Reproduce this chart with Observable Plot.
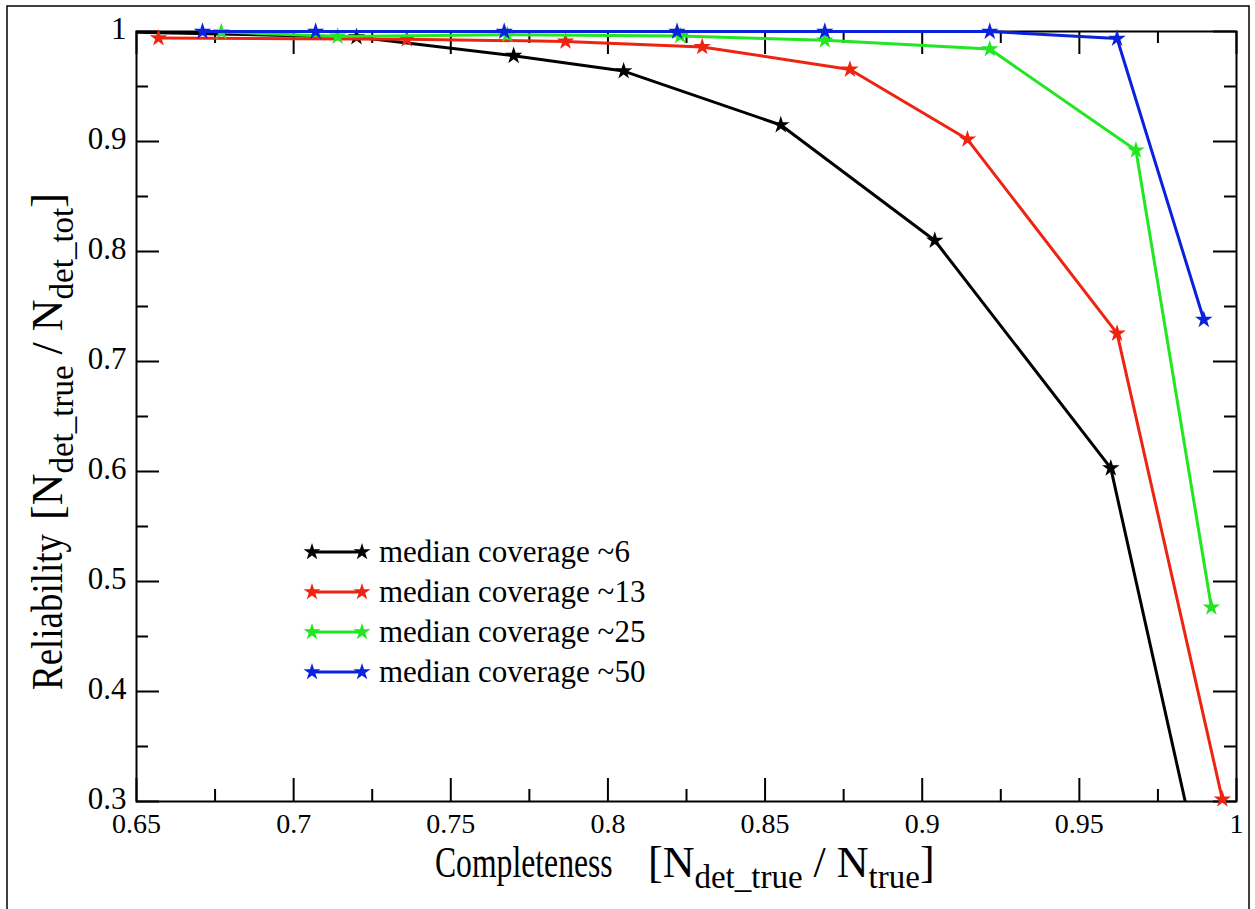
<!DOCTYPE html>
<html>
<head>
<meta charset="utf-8">
<script src="https://cdn.jsdelivr.net/npm/d3@7"></script>
<script src="https://cdn.jsdelivr.net/npm/@observablehq/plot@0.6"></script>
<style>
  body { margin: 0; background: #ffffff; }
  #chart { position: relative; width: 1255px; height: 909px; }
</style>
</head>
<body>
<div id="chart"></div>
<script>
// ---------------- data ----------------
const seriesLabels = ["median coverage ~6", "median coverage ~13", "median coverage ~25", "median coverage ~50"];
const seriesColors = ["#000000", "#ee2412", "#22e622", "#0a22dc"];

const cov6Completeness  = [0.640, 0.720, 0.770, 0.805, 0.855, 0.904, 0.960, 0.9915];
const cov6Reliability   = [1.000, 0.995, 0.978, 0.964, 0.915, 0.810, 0.603, 0.200];

const cov13Completeness = [0.657, 0.736, 0.7865, 0.830, 0.877, 0.9144, 0.962, 0.9955];
const cov13Reliability  = [0.994, 0.993, 0.991, 0.986, 0.9655, 0.902, 0.7255, 0.302];

const cov25Completeness = [0.677, 0.714, 0.768, 0.823, 0.869, 0.9215, 0.968, 0.992];
const cov25Reliability  = [0.9995, 0.9955, 0.997, 0.996, 0.992, 0.984, 0.892, 0.4765];

const cov50Completeness = [0.671, 0.707, 0.767, 0.822, 0.869, 0.9215, 0.962, 0.9896];
const cov50Reliability  = [1.000, 1.000, 1.000, 1.000, 1.000, 1.000, 0.9936, 0.738];

const xMajorTicks = [0.65, 0.7, 0.75, 0.8, 0.85, 0.9, 0.95, 1];
const xMinorTicks = [0.675, 0.725, 0.775, 0.825, 0.875, 0.925, 0.975];
const yMajorTicks = [0.3, 0.4, 0.5, 0.6, 0.7, 0.8, 0.9, 1];
const yMinorTicks = [0.35, 0.45, 0.55, 0.65, 0.75, 0.85, 0.95];

// ---------------- table ----------------
const seriesX = [cov6Completeness, cov13Completeness, cov25Completeness, cov50Completeness];
const seriesY = [cov6Reliability, cov13Reliability, cov25Reliability, cov50Reliability];
const rows = [];
seriesLabels.forEach((s, i) => {
  seriesX[i].forEach((c, j) => rows.push({series: s, c, r: seriesY[i][j]}));
});

// ---------------- layout ----------------
const W = 1255, H = 909;
const mL = 136, mR = 19, mT = 31, mB = 108;
const innerW = W - mL - mR, innerH = H - mT - mB;
const font = "'Liberation Serif', 'Times New Roman', serif";
const majorLen = 23, minorLen = 12;
const inDomain = d => d.c >= 0.65 && d.c <= 1 && d.r >= 0.3 && d.r <= 1;

const seriesMarks = seriesLabels.flatMap((s, i) => {
  const data = rows.filter(d => d.series === s);
  return [
    Plot.line(data, {x: "c", y: "r", stroke: seriesColors[i], strokeWidth: 3, clip: i === 0}),
    Plot.dot(data.filter(inDomain), {x: "c", y: "r", fill: seriesColors[i], symbol: "star", r: 5.5})
  ];
});

const plot = Plot.plot({
  width: W, height: H,
  marginLeft: mL, marginRight: mR, marginTop: mT, marginBottom: mB,
  style: {background: "white", color: "black"},
  x: {domain: [0.65, 1]},
  y: {domain: [0.3, 1]},
  marks: [
    Plot.tickX(xMajorTicks, {x: d => d, insetTop: innerH - majorLen, strokeWidth: 2}),
    Plot.tickX(xMajorTicks, {x: d => d, insetBottom: innerH - majorLen, strokeWidth: 2}),
    Plot.tickX(xMinorTicks, {x: d => d, insetTop: innerH - minorLen, strokeWidth: 2}),
    Plot.tickX(xMinorTicks, {x: d => d, insetBottom: innerH - minorLen, strokeWidth: 2}),
    Plot.tickY(yMajorTicks, {y: d => d, insetRight: innerW - majorLen, strokeWidth: 2}),
    Plot.tickY(yMajorTicks, {y: d => d, insetLeft: innerW - majorLen, strokeWidth: 2}),
    Plot.tickY(yMinorTicks, {y: d => d, insetRight: innerW - minorLen, strokeWidth: 2}),
    Plot.tickY(yMinorTicks, {y: d => d, insetLeft: innerW - minorLen, strokeWidth: 2}),
    Plot.frame({stroke: "black", strokeWidth: 2}),
    Plot.axisX(xMajorTicks, {tickSize: 0, tickPadding: 12, fontSize: 28, tickFormat: d => String(d), label: null}),
    Plot.axisY(yMajorTicks, {tickSize: 0, tickPadding: 10, fontSize: 31, dy: -2, tickFormat: d => String(d), label: null}),
    ...seriesMarks
  ]
});

document.getElementById("chart").appendChild(plot);

// ---------------- titles, legend, border ----------------
const svg = d3.select(plot);

svg.append("rect")
  .attr("x", 7).attr("y", 6).attr("width", W - 13).attr("height", H + 10)
  .attr("fill", "none").attr("stroke", "black").attr("stroke-width", 1.5);

const mainSize = 44, subSize = 33, subShift = 11;
function bracketText(g, parts) {
  parts.forEach(([t, sub]) => {
    const ts = g.append("tspan").text(t);
    if (sub === 1) ts.attr("dy", subShift).style("font-size", subSize + "px");
    if (sub === -1) ts.attr("dy", -subShift);
  });
}
const cx = mL + innerW / 2;

// x axis title
svg.append("text")
  .attr("transform", `translate(${cx - 251},877) scale(0.72,1)`)
  .attr("text-anchor", "start")
  .style("font-size", mainSize + "px")
  .text("Completeness");
const xb = svg.append("text")
  .attr("transform", `translate(${cx - 38},877)`)
  .attr("text-anchor", "start")
  .style("font-size", mainSize + "px");
bracketText(xb, [["[N", 0], ["det_true", 1], [" / N", -1], ["true", 1], ["]", -1]]);

// y axis title
const cy = mT + innerH / 2;
svg.append("text")
  .attr("transform", `translate(62,${cy + 274}) rotate(-90) scale(0.84,1)`)
  .attr("text-anchor", "start")
  .style("font-size", mainSize + "px")
  .text("Reliability");
const yb = svg.append("text")
  .attr("transform", `translate(62,${cy + 104}) rotate(-90)`)
  .attr("text-anchor", "start")
  .style("font-size", mainSize + "px");
bracketText(yb, [["[N", 0], ["det_true", 1], [" / N", -1], ["det_tot", 1], ["]", -1]]);

// legend
const legend = svg.append("g").attr("transform", "translate(312,552)");
const star = d3.symbol(d3.symbolStar, 90);
seriesLabels.forEach((s, i) => {
  const g = legend.append("g").attr("transform", `translate(0,${i * 40})`);
  g.append("line").attr("x1", 0).attr("x2", 50).attr("y1", 0).attr("y2", 0)
    .attr("stroke", seriesColors[i]).attr("stroke-width", 3);
  [0, 50].forEach(x => g.append("path").attr("d", star()).attr("transform", `translate(${x},0)`).attr("fill", seriesColors[i]));
  g.append("text").attr("x", 67).attr("y", 0).attr("dy", "0.32em")
    .attr("text-anchor", "start")
    .style("font-size", "31px").text(s);
});

// force the serif face on every text element
svg.selectAll("text, tspan").style("font-family", font).attr("font-family", font).style("white-space", "pre");
</script>
</body>
</html>
